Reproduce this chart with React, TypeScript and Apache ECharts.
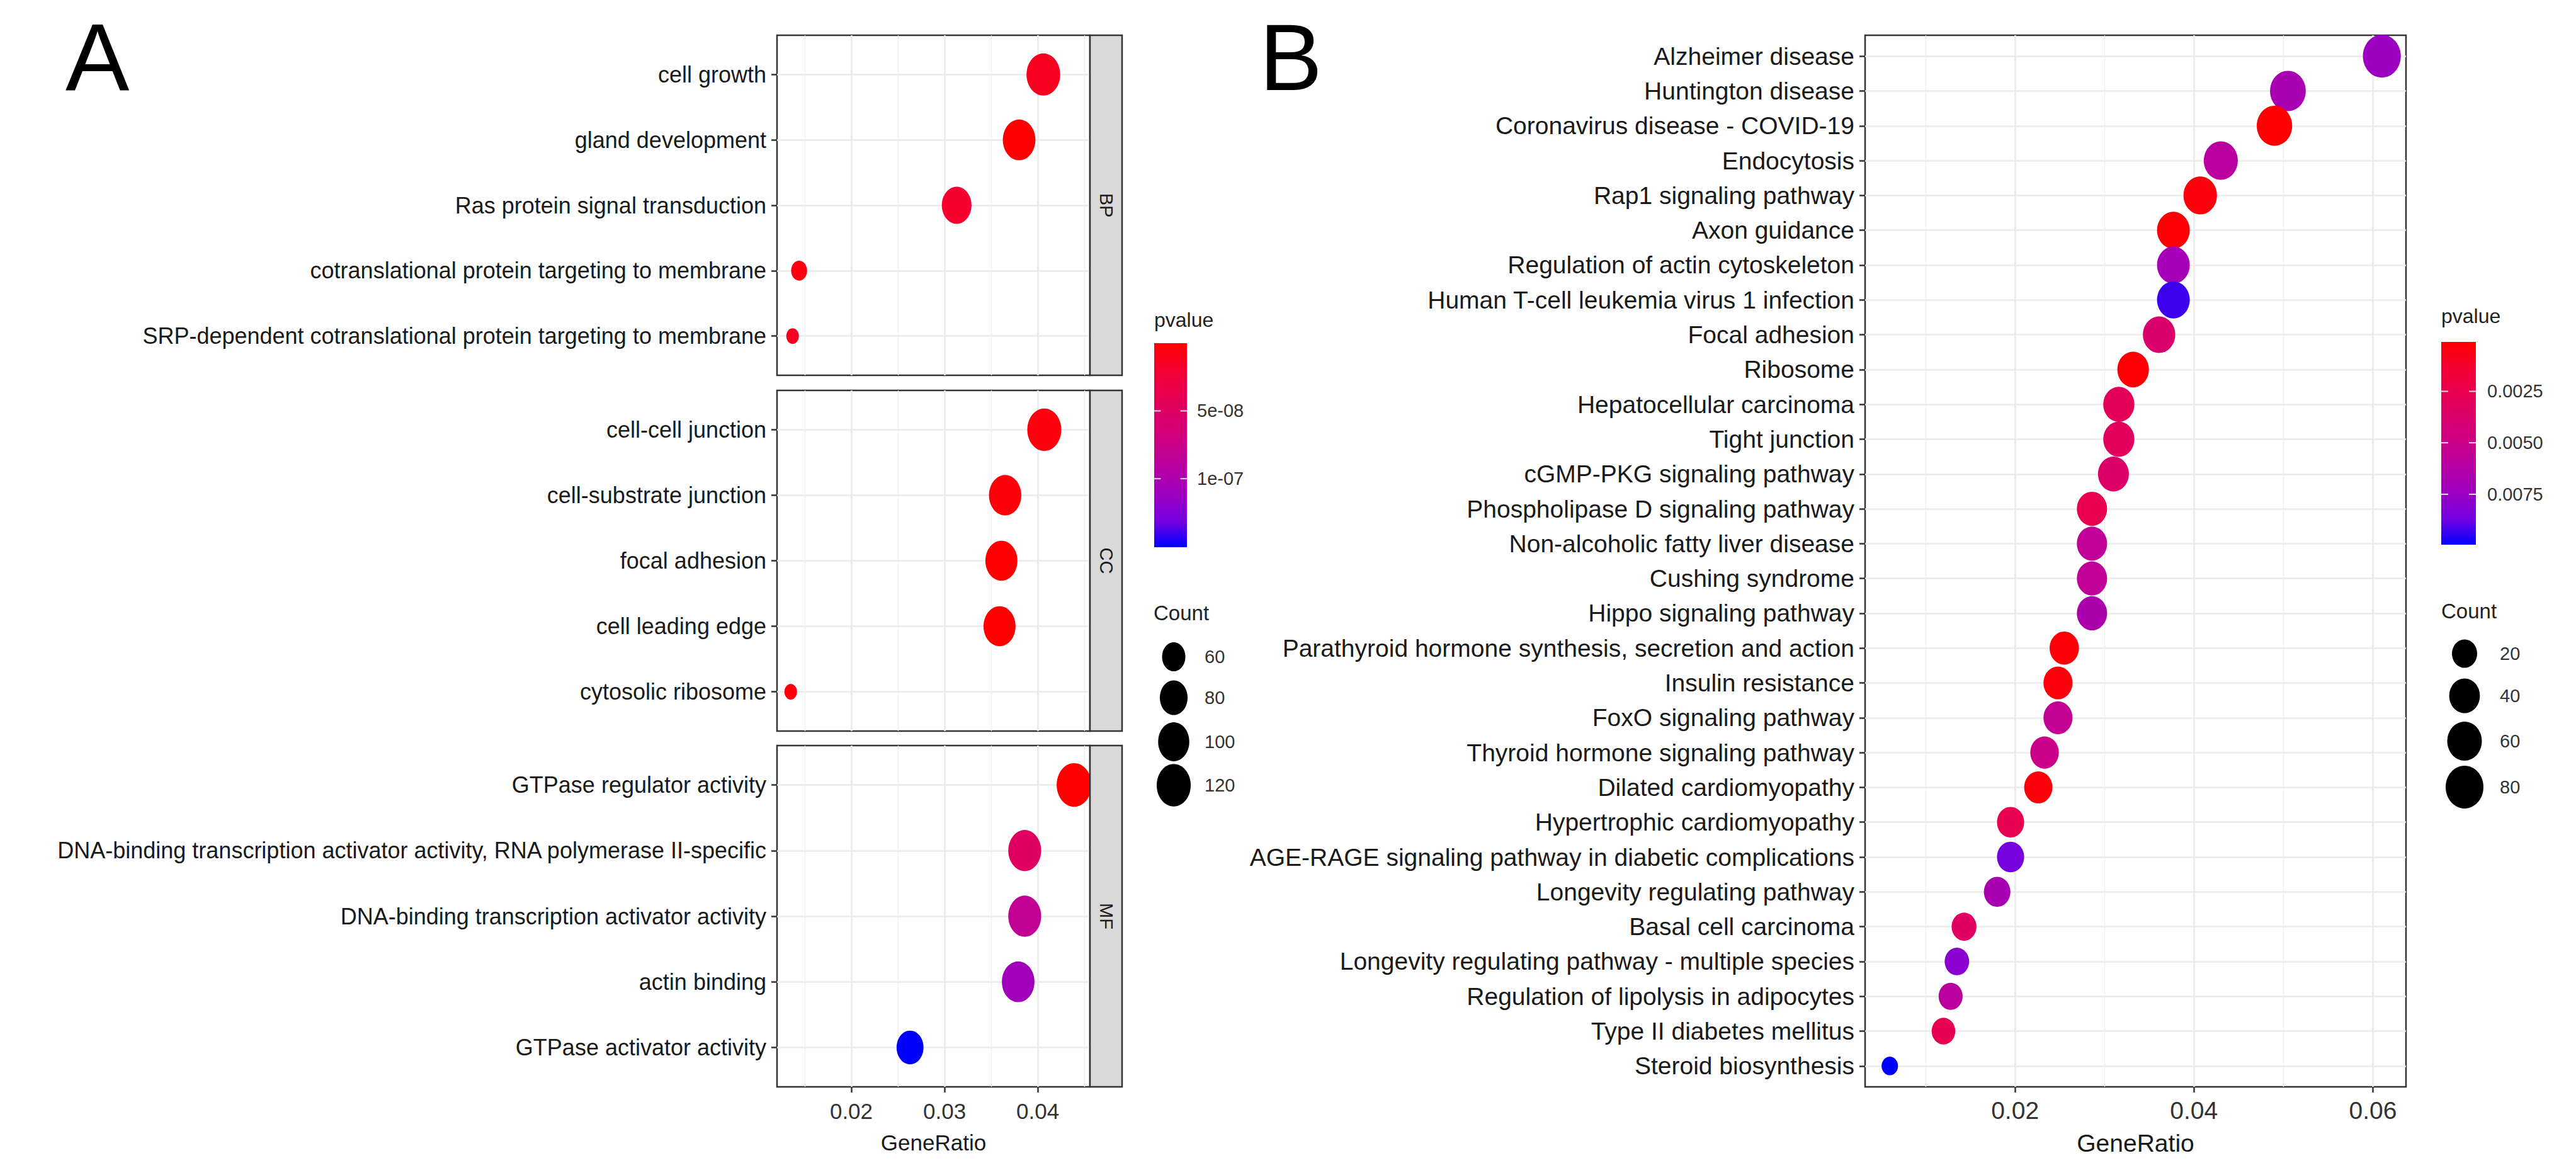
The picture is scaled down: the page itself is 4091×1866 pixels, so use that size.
import React, { useEffect, useRef } from "react";
import * as echarts from "echarts";

// ---------------- DATA ----------------
// Panel A (GO enrichment)
const bpTerms = [
  "cell growth",
  "gland development",
  "Ras protein signal transduction",
  "cotranslational protein targeting to membrane",
  "SRP-dependent cotranslational protein targeting to membrane",
];
const bpRatio = [0.0406, 0.038, 0.0313, 0.0144, 0.0137];
const bpCount = [118, 110, 91, 42, 40];
const bpP = [1.2e-8, 1e-10, 1.8e-8, 5e-9, 1.2e-8];

const ccTerms = [
  "cell-cell junction",
  "cell-substrate junction",
  "focal adhesion",
  "cell leading edge",
  "cytosolic ribosome",
];
const ccRatio = [0.0407, 0.0365, 0.0361, 0.0359, 0.0135];
const ccCount = [120, 108, 106, 106, 40];
const ccP = [5e-9, 3e-9, 1e-10, 1e-10, 2e-9];

const mfTerms = [
  "GTPase regulator activity",
  "DNA-binding transcription activator activity, RNA polymerase II-specific",
  "DNA-binding transcription activator activity",
  "actin binding",
  "GTPase activator activity",
];
const mfRatio = [0.0439, 0.0386, 0.0386, 0.0379, 0.0263];
const mfCount = [127, 112, 112, 110, 76];
const mfP = [1e-10, 5.0e-8, 8.3e-8, 1.08e-7, 1.505e-7];

const facetNames = ["BP", "CC", "MF"];
const aMajorTicks = [0.02, 0.03, 0.04];
const aMinorTicks = [0.015, 0.025, 0.035, 0.045];
const aPTicks = [5e-8, 1e-7];
const aPTickLabels = ["5e-08", "1e-07"];
const aCountKeys = [60, 80, 100, 120];

// Panel B (KEGG enrichment)
const keggTerms = [
  "Alzheimer disease",
  "Huntington disease",
  "Coronavirus disease - COVID-19",
  "Endocytosis",
  "Rap1 signaling pathway",
  "Axon guidance",
  "Regulation of actin cytoskeleton",
  "Human T-cell leukemia virus 1 infection",
  "Focal adhesion",
  "Ribosome",
  "Hepatocellular carcinoma",
  "Tight junction",
  "cGMP-PKG signaling pathway",
  "Phospholipase D signaling pathway",
  "Non-alcoholic fatty liver disease",
  "Cushing syndrome",
  "Hippo signaling pathway",
  "Parathyroid hormone synthesis, secretion and action",
  "Insulin resistance",
  "FoxO signaling pathway",
  "Thyroid hormone signaling pathway",
  "Dilated cardiomyopathy",
  "Hypertrophic cardiomyopathy",
  "AGE-RAGE signaling pathway in diabetic complications",
  "Longevity regulating pathway",
  "Basal cell carcinoma",
  "Longevity regulating pathway - multiple species",
  "Regulation of lipolysis in adipocytes",
  "Type II diabetes mellitus",
  "Steroid biosynthesis",
];
const keggRatio = [
  0.061, 0.0505, 0.049, 0.043, 0.0407, 0.0377, 0.0377, 0.0377, 0.0361, 0.0332,
  0.0316, 0.0316, 0.031, 0.0286, 0.0286, 0.0286, 0.0286, 0.0255, 0.0248, 0.0248,
  0.0233, 0.0226, 0.0195, 0.0195, 0.018, 0.0143, 0.0135, 0.0128, 0.012, 0.006,
];
const keggCount = [
  81, 67, 65, 57, 54, 50, 50, 50, 48, 44, 42, 42, 41, 38, 38, 38, 38, 34, 33, 33,
  31, 30, 26, 26, 24, 19, 18, 17, 16, 8,
];
const keggP = [
  0.0074, 0.0068, 0.0001, 0.006, 0.0004, 0.0002, 0.007, 0.0093, 0.0038, 0.0002,
  0.0029, 0.0031, 0.0036, 0.0025, 0.0056, 0.0056, 0.0066, 0.0003, 0.0004, 0.0055,
  0.005, 0.0004, 0.0026, 0.0086, 0.0068, 0.0033, 0.008, 0.006, 0.0026, 0.00995,
];
const bMajorTicks = [0.02, 0.04, 0.06];
const bMinorTicks = [0.01, 0.03, 0.05];
const bPTicks = [0.0025, 0.005, 0.0075];
const bPTickLabels = ["0.0025", "0.0050", "0.0075"];
const bCountKeys = [20, 40, 60, 80];

// ---------------- STYLE ----------------
const FONT = '"Liberation Sans", Arial, Helvetica, sans-serif';
const palette = [
  "#FF0000", "#F40031", "#E80050", "#DA006C", "#CA0089",
  "#B500A5", "#9A00C2", "#7300E1", "#0000FF",
];
const gridLine = "#EBEBEB";
const axisColor = "#333333";
const textColor = "#1A1A1A";

const sizeA = (c: number) => 20 + 3.8 * Math.sqrt(Math.max(c - 40, 0));
const sizeB = (c: number) => 26.2 + 3.98 * Math.sqrt(Math.max(c - 8, 0));
const RATIO_A = 1.25;
const RATIO_B = 1.13;

const A_LEFT = 1234;
const A_W = 497;
const A_TOPS = [56, 620, 1184];
const A_HS = [540, 541, 542];
const B_LEFT = 2962;
const B_TOP = 56;
const B_W = 859;
const B_H = 1670;

const A_XMIN = 0.01203;
const A_XMAX = 0.0456;
const B_XMIN = 0.00324;
const B_XMAX = 0.0637;

function txt(text: string, x: number, y: number, fs: number, align = "left", fill = textColor) {
  return {
    type: "text",
    z: 100,
    style: {
      text,
      x,
      y,
      fill,
      fontSize: fs,
      fontFamily: FONT,
      align,
      textAlign: align,
      verticalAlign: "middle",
      textVerticalAlign: "middle",
    },
  };
}

function xMajor(gridIndex: number, min: number, max: number, ticks: number[], bottom: boolean, fs: number, labelMargin: number, nameGap: number) {
  return {
    type: "value",
    gridIndex,
    position: "bottom",
    min,
    max,
    axisLine: { show: false, onZero: false },
    axisTick: { show: bottom, length: 9, customValues: ticks, lineStyle: { color: axisColor, width: 2.5 } },
    axisLabel: {
      show: bottom,
      customValues: ticks,
      margin: labelMargin,
      fontSize: fs,
      color: "#333333",
      fontFamily: FONT,
      formatter: (v: number) => Number(v).toFixed(2),
    },
    splitLine: { show: true, lineStyle: { color: gridLine, width: 2.6 } },
    name: bottom ? "GeneRatio" : "",
    nameLocation: "middle",
    nameGap,
    nameTextStyle: { fontSize: fs, color: textColor, fontFamily: FONT },
  };
}

function xMinor(gridIndex: number, min: number, max: number, ticks: number[]) {
  return {
    type: "value",
    gridIndex,
    position: "top",
    min,
    max,
    axisLine: { show: false, onZero: false },
    axisTick: { show: false, customValues: ticks },
    axisLabel: { show: false, customValues: ticks },
    splitLine: { show: true, lineStyle: { color: "#F0F0F0", width: 1.3 } },
  };
}

function yCat(gridIndex: number, names: string[], fs: number) {
  const idx = names.map((_, i) => i);
  return {
    type: "value",
    gridIndex,
    position: "left",
    inverse: true,
    min: -0.6,
    max: names.length - 0.4,
    axisLine: { show: false, onZero: false },
    axisTick: { show: true, length: 9, customValues: idx, lineStyle: { color: axisColor, width: 2.5 } },
    axisLabel: {
      customValues: idx,
      margin: 17,
      fontSize: fs,
      color: textColor,
      fontFamily: FONT,
      formatter: (v: number) => names[Math.round(v)] ?? "",
    },
    splitLine: { show: true, lineStyle: { color: gridLine, width: 2.6 } },
  };
}

function pts(ratio: number[], p: number[], count: number[]) {
  return ratio.map((r, i) => [r, i, p[i], count[i]]);
}

function colorbar(x: number, y: number, w: number, h: number, pmin: number, pmax: number, ticks: number[], labels: string[], labelX: number) {
  const els: any[] = [];
  els.push({
    type: "rect",
    z: 100,
    shape: { x, y, width: w, height: h },
    style: {
      fill: new echarts.graphic.LinearGradient(
        0, 0, 0, 1,
        palette.map((c, i) => ({ offset: i / (palette.length - 1), color: c }))
      ),
    },
  });
  ticks.forEach((t, i) => {
    const ty = y + ((t - pmin) / (pmax - pmin)) * h;
    const tl = w / 5;
    els.push({ type: "line", z: 101, shape: { x1: x, y1: ty, x2: x + tl, y2: ty }, style: { stroke: "rgba(255,255,255,0.85)", lineWidth: 2 } });
    els.push({ type: "line", z: 101, shape: { x1: x + w - tl, y1: ty, x2: x + w, y2: ty }, style: { stroke: "rgba(255,255,255,0.85)", lineWidth: 2 } });
    els.push(txt(labels[i], labelX, ty, 29, "left", "#333333"));
  });
  return els;
}

function sizeLegend(cx: number, cys: number[], keys: number[], sizeFn: (c: number) => number, ratio: number, labelX: number) {
  const els: any[] = [];
  keys.forEach((k, i) => {
    const w = sizeFn(k);
    els.push({ type: "ellipse", z: 100, shape: { cx, cy: cys[i], rx: w / 2, ry: (w * ratio) / 2 }, style: { fill: "#000000" } });
    els.push(txt(String(k), labelX, cys[i], 29, "left", "#333333"));
  });
  return els;
}

function buildOption() {
  const allA = [...bpP, ...ccP, ...mfP];
  const pMinA = Math.min(...allA);
  const pMaxA = Math.max(...allA);
  const pMinB = Math.min(...keggP);
  const pMaxB = Math.max(...keggP);

  const grids = [
    ...A_TOPS.map((t, i) => ({ left: A_LEFT, top: t, width: A_W, height: A_HS[i] })),
    { left: B_LEFT, top: B_TOP, width: B_W, height: B_H },
  ].map((g) => ({
    ...g,
    show: true,
    backgroundColor: "#FFFFFF",
    borderColor: axisColor,
    borderWidth: 2.5,
    containLabel: false,
    outerBoundsMode: "none",
  }));

  const xAxes = [
    xMajor(0, A_XMIN, A_XMAX, aMajorTicks, false, 35, 21, 71),
    xMinor(0, A_XMIN, A_XMAX, aMinorTicks),
    xMajor(1, A_XMIN, A_XMAX, aMajorTicks, false, 35, 21, 71),
    xMinor(1, A_XMIN, A_XMAX, aMinorTicks),
    xMajor(2, A_XMIN, A_XMAX, aMajorTicks, true, 35, 21, 71),
    xMinor(2, A_XMIN, A_XMAX, aMinorTicks),
    xMajor(3, B_XMIN, B_XMAX, bMajorTicks, true, 39, 18, 70),
    xMinor(3, B_XMIN, B_XMAX, bMinorTicks),
  ];

  const yAxes = [yCat(0, bpTerms, 36), yCat(1, ccTerms, 36), yCat(2, mfTerms, 36), yCat(3, keggTerms, 39)];

  const symA = (v: number[]) => {
    const w = sizeA(v[3]);
    return [w, w * RATIO_A];
  };
  const symB = (v: number[]) => {
    const w = sizeB(v[3]);
    return [w, w * RATIO_B];
  };

  const series = [
    { type: "scatter", xAxisIndex: 0, yAxisIndex: 0, data: pts(bpRatio, bpP, bpCount), symbol: "circle", symbolSize: symA, silent: true },
    { type: "scatter", xAxisIndex: 2, yAxisIndex: 1, data: pts(ccRatio, ccP, ccCount), symbol: "circle", symbolSize: symA, silent: true },
    { type: "scatter", xAxisIndex: 4, yAxisIndex: 2, data: pts(mfRatio, mfP, mfCount), symbol: "circle", symbolSize: symA, silent: true },
    { type: "scatter", xAxisIndex: 6, yAxisIndex: 3, data: pts(keggRatio, keggP, keggCount), symbol: "circle", symbolSize: symB, silent: true },
  ].map((s) => ({ ...s, itemStyle: { opacity: 1 }, emphasis: { disabled: true } }));

  const graphics: any[] = [];
  // Facet strips
  A_TOPS.forEach((t, i) => {
    graphics.push({
      type: "rect",
      z: 100,
      shape: { x: A_LEFT + A_W, y: t, width: 51, height: A_HS[i] },
      style: { fill: "#D9D9D9", stroke: axisColor, lineWidth: 2.5 },
    });
    graphics.push({
      type: "text",
      z: 101,
      x: A_LEFT + A_W + 25.5,
      y: t + A_HS[i] / 2,
      rotation: -Math.PI / 2,
      style: {
        text: facetNames[i],
        x: 0,
        y: 0,
        fill: "#1A1A1A",
        fontSize: 29,
        fontFamily: FONT,
        align: "center",
        textAlign: "center",
        verticalAlign: "middle",
        textVerticalAlign: "middle",
      },
    });
  });
  // Panel labels
  graphics.push(txt("A", 104, 91, 152, "left", "#000000"));
  graphics.push(txt("B", 2000, 91, 150, "left", "#000000"));

  // Legend A
  graphics.push(txt("pvalue", 1833, 508, 32, "left", "#222222"));
  graphics.push(...colorbar(1833, 545, 52, 324, pMinA, pMaxA, aPTicks, aPTickLabels, 1901));
  graphics.push(txt("Count", 1832, 973, 33, "left", "#222222"));
  graphics.push(...sizeLegend(1864, [1043, 1108, 1178, 1247], aCountKeys, sizeA, RATIO_A, 1913));

  // Legend B
  graphics.push(txt("pvalue", 3877, 502, 32, "left", "#222222"));
  graphics.push(...colorbar(3877, 543, 55, 322, pMinB, pMaxB, bPTicks, bPTickLabels, 3950));
  graphics.push(txt("Count", 3877, 970, 33, "left", "#222222"));
  graphics.push(...sizeLegend(3914, [1038, 1105, 1177, 1250], bCountKeys, sizeB, RATIO_B, 3970));

  return {
    animation: false,
    backgroundColor: "#FFFFFF",
    textStyle: { fontFamily: FONT },
    grid: grids,
    xAxis: xAxes,
    yAxis: yAxes,
    visualMap: [
      { type: "continuous", show: false, seriesIndex: [0, 1, 2], dimension: 2, min: pMinA, max: pMaxA, inRange: { color: palette } },
      { type: "continuous", show: false, seriesIndex: [3], dimension: 2, min: pMinB, max: pMaxB, inRange: { color: palette } },
    ],
    series,
    graphic: { elements: graphics },
  };
}

export default function App() {
  const ref = useRef<HTMLDivElement>(null);
  useEffect(() => {
    document.body.style.margin = "0";
    const chart = echarts.init(ref.current as HTMLDivElement, undefined, { renderer: "svg" });
    chart.setOption(buildOption() as any);
    return () => {
      chart.dispose();
    };
  }, []);
  return <div ref={ref} style={{ width: 4091, height: 1866, background: "#FFFFFF" }} />;
}
